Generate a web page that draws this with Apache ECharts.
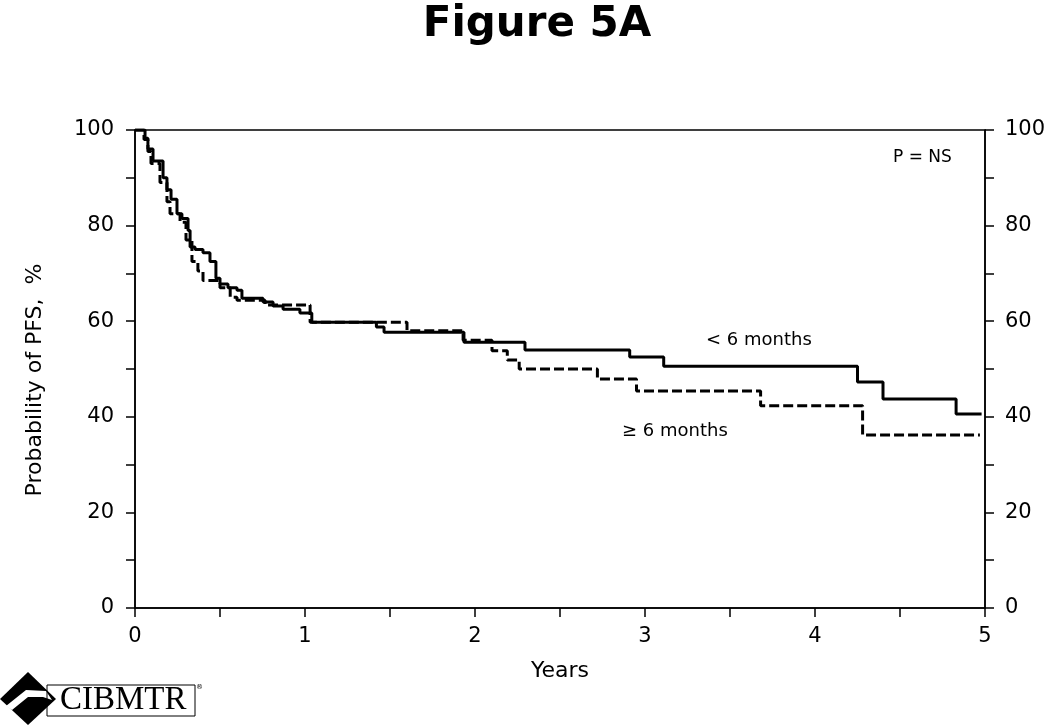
<!DOCTYPE html>
<html>
<head>
<meta charset="utf-8">
<script src="https://cdn.jsdelivr.net/npm/echarts@6/dist/echarts.min.js"></script>
<style>
html,body{margin:0;padding:0;background:#fff;}
#chart{width:1050px;height:725px;}
</style>
</head>
<body>
<div id="chart"></div>
<script>
// Kaplan-Meier step points: time in years, probability (%)
const lessTimes = [0, 0.059, 0.076, 0.106, 0.165, 0.188, 0.212, 0.247, 0.276, 0.312, 0.324, 0.353, 0.40, 0.441, 0.476, 0.50, 0.547, 0.60, 0.629, 0.753, 0.812, 0.871, 0.97, 1.04, 1.42, 1.465, 1.935, 2.294, 2.91, 3.11, 4.25, 4.40, 4.83, 4.98];
const lessValues = [100, 98.3, 96, 93.5, 90, 87.5, 85.5, 82.5, 81.5, 79, 75.5, 75, 74.3, 72.5, 69, 67.8, 67, 66.5, 64.8, 64, 63.2, 62.5, 61.7, 59.8, 58.8, 57.7, 55.6, 54, 52.5, 50.6, 47.3, 43.7, 40.6, 40.6];

const moreTimes = [0, 0.053, 0.076, 0.094, 0.147, 0.188, 0.206, 0.265, 0.30, 0.335, 0.37, 0.40, 0.50, 0.56, 0.60, 0.765, 1.03, 1.60, 1.93, 2.10, 2.19, 2.26, 2.72, 2.95, 3.68, 4.28, 4.97];
const moreValues = [100, 98, 95.5, 93, 89, 85, 82.5, 80.7, 77, 72.5, 70.5, 68.5, 67, 65, 64.4, 63.4, 59.8, 58, 56, 53.8, 51.9, 50, 47.9, 45.4, 42.3, 36.2, 36.2];

const xTicks = [0, 1, 2, 3, 4, 5];
const yTicks = [0, 20, 40, 60, 80, 100];

const seriesNames = ['< 6 months', '\u2265 6 months'];

const toPairs = (t, v) => t.map((x, i) => [x, v[i]]);

const font = 'DejaVu Sans, Verdana, sans-serif';
const chart = echarts.init(document.getElementById('chart'));

const yAxisBase = {
  type: 'value', min: 0, max: 100, interval: 10,
  axisLine: {show: true, lineStyle: {color: '#000', width: 1.5}},
  axisTick: {show: true, length: 9, lineStyle: {color: '#000', width: 1.5}},
  splitLine: {show: false},
  axisLabel: {
    color: '#000', fontFamily: font, fontSize: 21, margin: 21,
    formatter: v => yTicks.includes(v) ? String(v) : ''
  }
};

chart.setOption({
  animation: false,
  backgroundColor: '#fff',
  title: {
    text: 'Figure 5A', left: 532, top: -1, textAlign: 'center',
    textStyle: {fontFamily: font, fontWeight: 'bold', fontSize: 42, color: '#000'}
  },
  grid: {left: 135, right: 65, top: 130, bottom: 117, show: true, borderColor: '#000', borderWidth: 1.5, backgroundColor: 'transparent'},
  xAxis: {
    type: 'value', min: 0, max: 5, interval: 0.5,
    name: 'Years', nameLocation: 'middle', nameGap: 52,
    nameTextStyle: {color: '#000', fontFamily: font, fontSize: 22},
    axisLine: {show: true, lineStyle: {color: '#000', width: 1.5}},
    axisTick: {show: true, length: 9, lineStyle: {color: '#000', width: 1.5}},
    splitLine: {show: false},
    axisLabel: {
      color: '#000', fontFamily: font, fontSize: 21, margin: 18,
      formatter: v => xTicks.includes(v) ? String(v) : ''
    }
  },
  yAxis: [
    Object.assign({}, yAxisBase, {position: 'left'}),
    Object.assign({}, yAxisBase, {position: 'right', axisLabel: Object.assign({}, yAxisBase.axisLabel, {margin: 20})})
  ],
  series: [
    {
      name: seriesNames[0], type: 'line', step: 'end', symbol: 'none',
      data: toPairs(lessTimes, lessValues),
      lineStyle: {color: '#000', width: 3, type: 'solid'}
    },
    {
      name: seriesNames[1], type: 'line', step: 'end', symbol: 'none',
      data: toPairs(moreTimes, moreValues),
      lineStyle: {color: '#000', width: 3, type: [10, 4]}
    }
  ],
  graphic: [
    {type: 'text', x: 35, y: 380, rotation: Math.PI / 2,
     style: {text: 'Probability of PFS,  %', font: '22px ' + font, fill: '#000', align: 'center', verticalAlign: 'middle'}},
    {type: 'text', left: 893, top: 149, style: {text: 'P = NS', font: '17px ' + font, fill: '#000'}},
    {type: 'text', left: 706, top: 331, style: {text: seriesNames[0], font: '18px ' + font, fill: '#000'}},
    {type: 'text', left: 622, top: 422, style: {text: seriesNames[1], font: '18px ' + font, fill: '#000'}},
    // CIBMTR logo
    {type: 'polygon', shape: {points: [[28, 672], [56, 699], [28, 725], [0, 699]]}, style: {fill: '#000'}},
    {type: 'polygon', shape: {points: [[6, 706], [26, 690], [46, 691], [52, 700], [43, 697], [28, 697], [12, 710]]}, style: {fill: '#fff'}},
    {type: 'rect', shape: {x: 47, y: 685, width: 148, height: 31}, style: {fill: 'none', stroke: '#000', lineWidth: 1}},
    {type: 'text', left: 60, top: 684, style: {text: 'CIBMTR', font: '33px "Liberation Serif", serif', fill: '#000'}},
    {type: 'text', left: 196, top: 684, style: {text: '\u00ae', font: '7px ' + font, fill: '#000'}}
  ]
});
</script>
</body>
</html>
